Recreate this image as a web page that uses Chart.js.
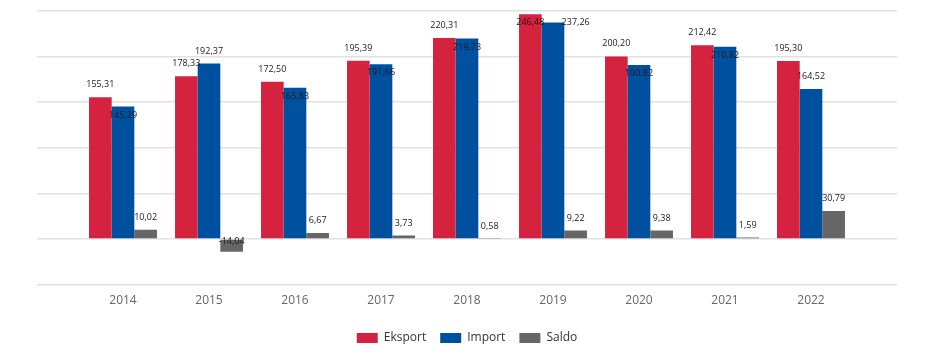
<!DOCTYPE html>
<html>
<head>
<meta charset="utf-8">
<script src="https://cdn.jsdelivr.net/npm/chart.js@4.4.1/dist/chart.umd.min.js"></script>
<style>
  html, body { margin: 0; padding: 0; background: #fff; }
  #wrap { width: 930px; height: 363px; }
</style>
</head>
<body>
<div id="wrap"><canvas id="chart1"></canvas></div>
<script>
// data
var years = ['2014', '2015', '2016', '2017', '2018', '2019', '2020', '2021', '2022'];
var eksport = [155.31, 178.33, 172.50, 195.39, 220.31, 246.48, 200.20, 212.42, 195.30];
var importV = [145.29, 192.37, 165.83, 191.66, 219.73, 237.26, 190.82, 210.82, 164.52];
var saldo = [10.02, -14.04, 6.67, 3.73, 0.58, 9.22, 9.38, 1.59, 30.79];

// empty slot on each side, like the original axis
function pad(arr) { return [null].concat(arr, [null]); }
var labels = [''].concat(years, ['']);

function fmt(v) { return v.toFixed(2).replace('.', ','); }

// value labels: above the bar, inside if it collides with the neighbour label
var valueLabels = {
    id: 'valueLabels',
    afterDatasetsDraw: function(chart) {
        var ctx = chart.ctx;
        var area = chart.chartArea;
        ctx.save();
        ctx.font = '9px "Open Sans", sans-serif';
        ctx.fillStyle = '#1a1a1a';
        ctx.textAlign = 'center';
        ctx.textBaseline = 'middle';
        var n = chart.data.labels.length;
        for (var i = 0; i < n; i++) {
            var prev = null;
            chart.data.datasets.forEach(function(ds, d) {
                var v = ds.data[i];
                if (v === null || v === undefined) return;
                var bar = chart.getDatasetMeta(d).data[i];
                var x = bar.x, y;
                if (v < 0) {
                    y = bar.base + 2;
                } else {
                    y = bar.y - 12.5;
                    if (y - 5 < area.top) y = bar.y + 8.5;
                    if (prev && Math.abs(prev.y - y) < 11) {
                        y = bar.y + 8.5;
                        if (Math.abs(prev.y - y) < 11) {
                            y = bar.y;
                            x = bar.x + bar.width;
                        }
                    }
                }
                ctx.fillText(fmt(v), x, y);
                prev = { x: x, y: y };
            });
        }
        ctx.restore();
    }
};

var ctx = document.getElementById('chart1').getContext('2d');
var myChart = new Chart(ctx, {
    type: 'bar',
    data: {
        labels: labels,
        datasets: [{
            label: 'Eksport',
            data: pad(eksport),
            backgroundColor: '#d5223f',
            borderWidth: 0
        },
        {
            label: 'Import',
            data: pad(importV),
            backgroundColor: '#0050a0',
            borderWidth: 0
        },
        {
            label: 'Saldo',
            data: pad(saldo),
            backgroundColor: '#666666',
            borderWidth: 0
        }]
    },
    options: {
        responsive: true,
        maintainAspectRatio: false,
        animation: false,
        categoryPercentage: 0.79,
        barPercentage: 1.0,
        layout: {
            padding: { left: 37, right: 33, top: 11, bottom: 9 }
        },
        plugins: {
            legend: {
                position: 'bottom',
                labels: {
                    boxWidth: 21,
                    boxHeight: 10,
                    padding: 14,
                    color: '#333',
                    font: { family: '"Open Sans", sans-serif', size: 12 }
                }
            },
            tooltip: { enabled: false }
        },
        scales: {
            x: {
                offset: false,
                grid: { display: false },
                border: { display: false },
                afterFit: function(scale) { scale.height += 9; },
                ticks: {
                    color: '#666',
                    padding: 1,
                    autoSkip: false,
                    maxRotation: 0,
                    font: { family: '"Open Sans", sans-serif', size: 12 }
                }
            },
            y: {
                min: -50,
                max: 250,
                border: { display: false },
                grid: { color: '#e1e1e1', lineWidth: 1.5, drawTicks: false },
                ticks: { display: false, stepSize: 50 }
            }
        }
    },
    plugins: [valueLabels]
});
</script>
</body>
</html>
